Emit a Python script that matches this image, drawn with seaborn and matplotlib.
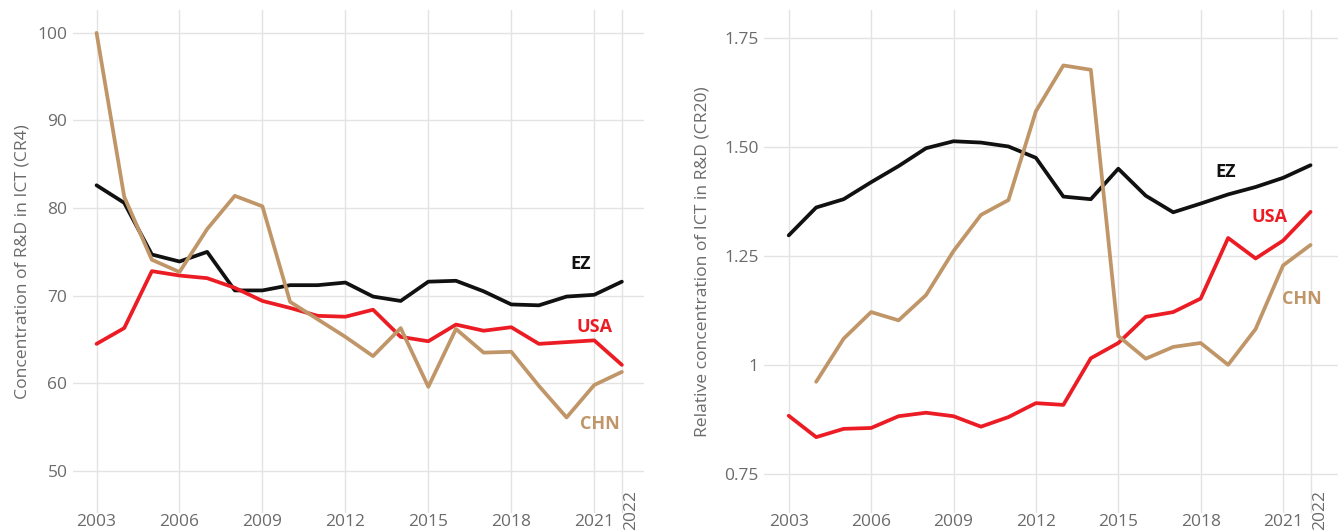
import numpy as np
import pandas as pd
import matplotlib
matplotlib.use("Agg")
import matplotlib.pyplot as plt
import seaborn as sns

# Años
years = list(range(2003, 2023))

# Panel izquierdo: concentración de I+D en TIC (CR4)
cr4_ez = [82.6, 80.6, 74.7, 73.9, 75.0, 70.6, 70.6, 71.2, 71.2, 71.5,
          69.9, 69.4, 71.6, 71.7, 70.5, 69.0, 68.9, 69.9, 70.1, 71.6]
cr4_usa = [64.5, 66.3, 72.8, 72.3, 72.0, 70.9, 69.4, 68.6, 67.7, 67.6,
           68.4, 65.3, 64.8, 66.7, 66.0, 66.4, 64.5, 64.7, 64.9, 62.1]
cr4_chn = [100.0, 81.3, 74.1, 72.7, 77.6, 81.4, 80.2, 69.3, 67.3, 65.3,
           63.1, 66.3, 59.6, 66.2, 63.5, 63.6, 59.7, 56.1, 59.8, 61.3]

# Panel derecho: concentración relativa de TIC en I+D (CR20)
cr20_ez = [1.297, 1.361, 1.380, 1.419, 1.456, 1.497, 1.513, 1.510, 1.501, 1.475,
           1.386, 1.380, 1.450, 1.388, 1.350, 1.370, 1.391, 1.408, 1.429, 1.458]
cr20_usa = [0.883, 0.834, 0.853, 0.855, 0.882, 0.890, 0.882, 0.858, 0.880, 0.912,
            0.908, 1.015, 1.050, 1.110, 1.121, 1.152, 1.291, 1.244, 1.285, 1.351]
cr20_chn = [np.nan, 0.961, 1.060, 1.121, 1.102, 1.160, 1.261, 1.344, 1.378, 1.582,
            1.687, 1.677, 1.066, 1.014, 1.041, 1.050, 1.000, 1.082, 1.228, 1.275]

regions = ["EZ", "USA", "CHN"]
colors = {"EZ": "#111111", "USA": "#ec1c24", "CHN": "#c09668"}

xticks = [2003, 2006, 2009, 2012, 2015, 2018, 2021, 2022]

left_yticks = [50, 60, 70, 80, 90, 100]
left_ylabels = ["50", "60", "70", "80", "90", "100"]
right_yticks = [0.75, 1.0, 1.25, 1.5, 1.75]
right_ylabels = ["0.75", "1", "1.25", "1.50", "1.75"]


def to_long(ez, usa, chn):
    return pd.DataFrame({
        "year": years * 3,
        "value": ez + usa + chn,
        "region": ["EZ"] * len(years) + ["USA"] * len(years) + ["CHN"] * len(years),
    })


df_left = to_long(cr4_ez, cr4_usa, cr4_chn)
df_right = to_long(cr20_ez, cr20_usa, cr20_chn)

sns.set_theme(style="whitegrid")
plt.rcParams["font.family"] = ["Open Sans", "DejaVu Sans"]

fig = plt.figure(figsize=(13.38, 5.31), dpi=100)
ax1 = fig.add_axes([0.0546, 0.034, 0.4267, 0.947])
ax2 = fig.add_axes([0.571, 0.034, 0.429, 0.947])

grey = "#6b6b6b"


def style_axis(ax, yticks, ylabels, ylim, xlim, ylabel):
    ax.set_xlim(*xlim)
    ax.set_ylim(*ylim)
    ax.set_xticks(xticks)
    # la etiqueta 2022 va aparte, girada
    ax.set_xticklabels([str(x) for x in xticks[:-1]] + [""])
    ax.set_yticks(yticks)
    ax.set_yticklabels(ylabels)
    ax.tick_params(axis="both", length=0, labelsize=12.5, colors=grey)
    ax.tick_params(axis="x", pad=1)
    ax.tick_params(axis="y", pad=4)
    ax.annotate("2022", xy=(2022, 0), xycoords=("data", "axes fraction"),
                xytext=(7, -12), textcoords="offset points", rotation=90,
                ha="center", va="bottom", fontsize=12.5, color=grey,
                annotation_clip=False)
    ax.grid(True, color="#e3e3e3", linewidth=1.0)
    for s in ax.spines.values():
        s.set_visible(False)
    ax.set_xlabel("")
    ax.set_ylabel(ylabel, fontsize=12.6, color=grey, labelpad=5)


sns.lineplot(data=df_left, x="year", y="value", hue="region", hue_order=regions,
             palette=colors, linewidth=2.7, ax=ax1, legend=False)
sns.lineplot(data=df_right, x="year", y="value", hue="region", hue_order=regions,
             palette=colors, linewidth=2.7, ax=ax2, legend=False)

style_axis(ax1, left_yticks, left_ylabels, (45.2, 102.6), (2002.15, 2022.8),
           "Concentration of R&D in ICT (CR4)")
style_axis(ax2, right_yticks, right_ylabels, (0.66, 1.814), (2002.1, 2023.0),
           "Relative concentration of ICT in R&D (CR20)")
ax2.yaxis.labelpad = 10

# Etiquetas de las series
ax1.text(2020.5, 73.6, "EZ", color=colors["EZ"], fontsize=13, fontweight="bold", ha="center", va="center")
ax1.text(2021.0, 66.4, "USA", color=colors["USA"], fontsize=13, fontweight="bold", ha="center", va="center")
ax1.text(2021.2, 55.4, "CHN", color=colors["CHN"], fontsize=13, fontweight="bold", ha="center", va="center")
ax2.text(2018.9, 1.443, "EZ", color=colors["EZ"], fontsize=13, fontweight="bold", ha="center", va="center")
ax2.text(2020.5, 1.339, "USA", color=colors["USA"], fontsize=13, fontweight="bold", ha="center", va="center")
ax2.text(2021.7, 1.151, "CHN", color=colors["CHN"], fontsize=13, fontweight="bold", ha="center", va="center")

fig.savefig("out.png", dpi=100)
